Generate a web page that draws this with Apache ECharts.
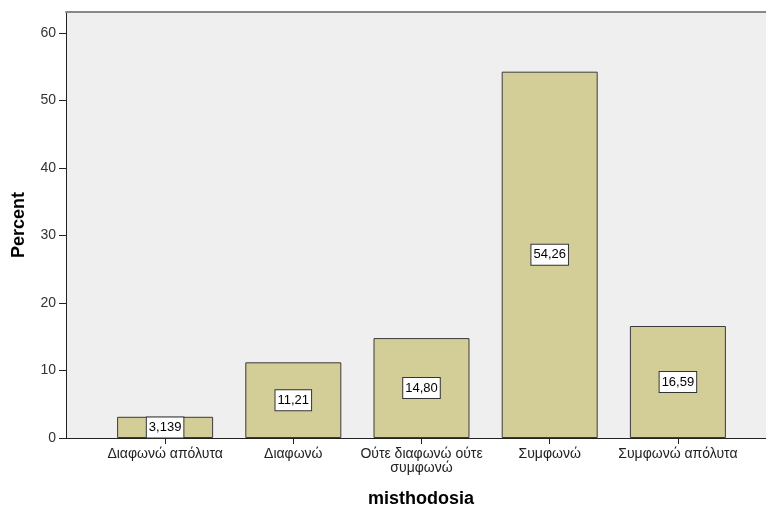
<!DOCTYPE html>
<html>
<head>
<meta charset="utf-8">
<script src="https://cdn.jsdelivr.net/npm/echarts@6/dist/echarts.min.js"></script>
<style>html,body{margin:0;padding:0;background:#fff}#c{width:766px;height:506px}</style>
</head>
<body>
<div id="c"></div>
<script>
const categories = ['Διαφωνώ απόλυτα', 'Διαφωνώ', 'Ούτε διαφωνώ ούτε\nσυμφωνώ', 'Συμφωνώ', 'Συμφωνώ απόλυτα'];
const percentValues = [3.139, 11.21, 14.80, 54.26, 16.59];
const valueLabels = ['3,139', '11,21', '14,80', '54,26', '16,59'];
const yTicks = [0, 10, 20, 30, 40, 50, 60];
const yMax = 63.1;

const FONT = '"Liberation Sans", Arial, sans-serif';
const chart = echarts.init(document.getElementById('c'), null, {renderer: 'canvas'});
chart.setOption({
  backgroundColor: '#ffffff',
  animation: false,
  grid: [
    {left: 66, right: 0, top: 12, bottom: 68, show: true, backgroundColor: '#efefef', borderWidth: 0, containLabel: false, outerBoundsMode: 'none'},
    {left: 101, right: 24, top: 12, bottom: 68, containLabel: false, outerBoundsMode: 'none'}
  ],
  xAxis: [
    {gridIndex: 0, type: 'value', min: 0, max: 1, position: 'bottom',
      axisLine: {show: true, lineStyle: {color: '#222', width: 1}},
      axisTick: {show: false}, axisLabel: {show: false}, splitLine: {show: false},
      name: 'misthodosia', nameLocation: 'middle', nameGap: 52,
      nameTextStyle: {fontFamily: FONT, fontSize: 18, fontWeight: 'bold', color: '#000', padding: [0, 0, 0, 10]}
    },
    {gridIndex: 0, type: 'value', min: 0, max: 1, position: 'top',
      axisLine: {show: true, lineStyle: {color: '#888', width: 2}},
      axisTick: {show: false}, axisLabel: {show: false}, splitLine: {show: false}
    },
    {gridIndex: 1, type: 'category', data: categories, boundaryGap: true, position: 'bottom',
      axisLine: {show: false},
      axisTick: {show: true, alignWithLabel: true, length: 6, lineStyle: {color: '#222'}},
      axisLabel: {fontFamily: FONT, fontSize: 14, color: '#222', margin: 9, lineHeight: 14, interval: 0},
      splitLine: {show: false}
    }
  ],
  yAxis: [
    {gridIndex: 0, type: 'value', min: 0, max: yMax, position: 'left',
      axisLine: {show: true, lineStyle: {color: '#222', width: 1}},
      axisTick: {show: true, length: 7, inside: false, customValues: yTicks, lineStyle: {color: '#222'}},
      axisLabel: {fontFamily: FONT, fontSize: 14, color: '#333', margin: 10, customValues: yTicks},
      splitLine: {show: false},
      name: 'Percent', nameLocation: 'middle', nameGap: 38,
      nameTextStyle: {fontFamily: FONT, fontSize: 18, fontWeight: 'bold', color: '#000'}
    },
    {gridIndex: 1, type: 'value', min: 0, max: yMax, show: false}
  ],
  series: [{
    type: 'bar',
    xAxisIndex: 2, yAxisIndex: 1,
    data: percentValues,
    barWidth: 96,
    itemStyle: {color: '#d3ce97', borderColor: '#3a3a3a', borderWidth: 1},
    label: {
      show: true, position: 'inside',
      formatter: p => valueLabels[p.dataIndex],
      fontFamily: FONT, fontSize: 13, color: '#000',
      backgroundColor: '#ffffff', borderColor: '#333', borderWidth: 1,
      padding: [4, 2, 3, 2]
    }
  }]
});
</script>
</body>
</html>
